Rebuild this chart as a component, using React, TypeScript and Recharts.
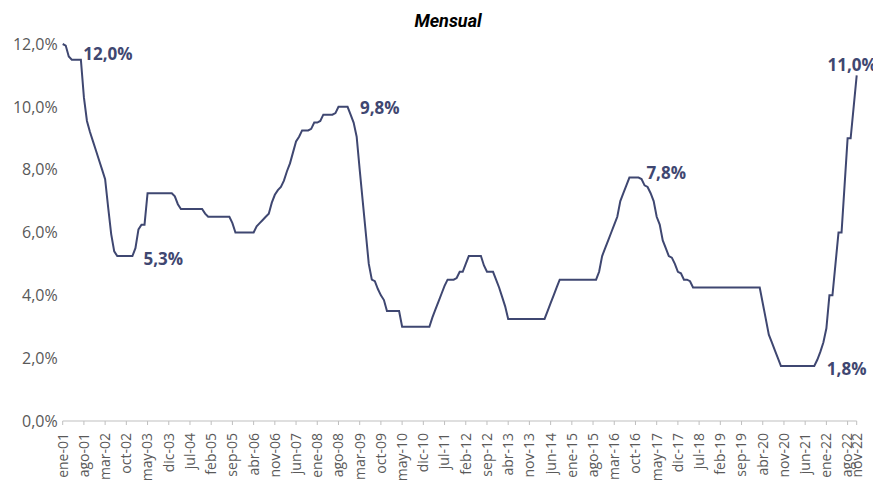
import React from 'react';
import { LineChart, Line, XAxis, YAxis, LabelList } from 'recharts';

const monthNames = ['ene', 'feb', 'mar', 'abr', 'may', 'jun', 'jul', 'ago', 'sep', 'oct', 'nov', 'dic'];
const yearSuffixes = ['01', '02', '03', '04', '05', '06', '07', '08', '09', '10', '11', '12', '13', '14', '15', '16', '17', '18', '19', '20', '21', '22'];

const rate2001 = [12.0, 11.95, 11.6, 11.5, 11.5, 11.5, 11.5, 10.3, 9.55, 9.2, 8.9, 8.6];
const rate2002 = [8.3, 8.0, 7.7, 6.8, 5.95, 5.4, 5.25, 5.25, 5.25, 5.25, 5.25, 5.25];
const rate2003 = [5.5, 6.1, 6.25, 6.25, 7.25, 7.25, 7.25, 7.25, 7.25, 7.25, 7.25, 7.25];
const rate2004 = [7.25, 7.15, 6.9, 6.75, 6.75, 6.75, 6.75, 6.75, 6.75, 6.75, 6.75, 6.6];
const rate2005 = [6.5, 6.5, 6.5, 6.5, 6.5, 6.5, 6.5, 6.5, 6.3, 6.0, 6.0, 6.0];
const rate2006 = [6.0, 6.0, 6.0, 6.0, 6.2, 6.3, 6.4, 6.5, 6.6, 6.95, 7.2, 7.35];
const rate2007 = [7.45, 7.65, 7.95, 8.2, 8.55, 8.9, 9.05, 9.25, 9.25, 9.25, 9.3, 9.5];
const rate2008 = [9.5, 9.55, 9.75, 9.75, 9.75, 9.75, 9.8, 10.0, 10.0, 10.0, 10.0, 9.75];
const rate2009 = [9.5, 9.05, 8.0, 7.0, 6.0, 5.0, 4.5, 4.45, 4.2, 4.0, 3.85, 3.5];
const rate2010 = [3.5, 3.5, 3.5, 3.5, 3.0, 3.0, 3.0, 3.0, 3.0, 3.0, 3.0, 3.0];
const rate2011 = [3.0, 3.0, 3.3, 3.55, 3.8, 4.05, 4.3, 4.5, 4.5, 4.5, 4.55, 4.75];
const rate2012 = [4.75, 5.0, 5.25, 5.25, 5.25, 5.25, 5.25, 4.95, 4.75, 4.75, 4.75, 4.5];
const rate2013 = [4.25, 3.95, 3.65, 3.25, 3.25, 3.25, 3.25, 3.25, 3.25, 3.25, 3.25, 3.25];
const rate2014 = [3.25, 3.25, 3.25, 3.25, 3.5, 3.75, 4.0, 4.25, 4.5, 4.5, 4.5, 4.5];
const rate2015 = [4.5, 4.5, 4.5, 4.5, 4.5, 4.5, 4.5, 4.5, 4.5, 4.75, 5.25, 5.5];
const rate2016 = [5.75, 6.0, 6.25, 6.5, 7.0, 7.25, 7.5, 7.75, 7.75, 7.75, 7.75, 7.7];
const rate2017 = [7.5, 7.45, 7.25, 7.0, 6.5, 6.25, 5.75, 5.5, 5.25, 5.2, 5.0, 4.75];
const rate2018 = [4.7, 4.5, 4.5, 4.45, 4.25, 4.25, 4.25, 4.25, 4.25, 4.25, 4.25, 4.25];
const rate2019 = [4.25, 4.25, 4.25, 4.25, 4.25, 4.25, 4.25, 4.25, 4.25, 4.25, 4.25, 4.25];
const rate2020 = [4.25, 4.25, 4.25, 3.75, 3.25, 2.75, 2.5, 2.25, 2.0, 1.75, 1.75, 1.75];
const rate2021 = [1.75, 1.75, 1.75, 1.75, 1.75, 1.75, 1.75, 1.75, 1.75, 1.95, 2.2, 2.5];
const rate2022 = [2.95, 4.0, 4.0, 5.0, 6.0, 6.0, 7.5, 9.0, 9.0, 10.0, 11.0];

const rates = [
  ...rate2001, ...rate2002, ...rate2003, ...rate2004, ...rate2005, ...rate2006,
  ...rate2007, ...rate2008, ...rate2009, ...rate2010, ...rate2011, ...rate2012,
  ...rate2013, ...rate2014, ...rate2015, ...rate2016, ...rate2017, ...rate2018,
  ...rate2019, ...rate2020, ...rate2021, ...rate2022,
];

const categories: string[] = [];
yearSuffixes.forEach((y) => monthNames.forEach((m) => categories.push(`${m}-${y}`)));

const data = rates.map((v, i) => ({ mes: categories[i], tasa: v }));

const tickLabels = [
  'ene-01', 'ago-01', 'mar-02', 'oct-02', 'may-03', 'dic-03', 'jul-04', 'feb-05', 'sep-05',
  'abr-06', 'nov-06', 'jun-07', 'ene-08', 'ago-08', 'mar-09', 'oct-09', 'may-10', 'dic-10',
  'jul-11', 'feb-12', 'sep-12', 'abr-13', 'nov-13', 'jun-14', 'ene-15', 'ago-15', 'mar-16',
  'oct-16', 'may-17', 'dic-17', 'jul-18', 'feb-19', 'sep-19', 'abr-20', 'nov-20', 'jun-21',
  'ene-22', 'ago-22', 'nov-22',
];

const yTicks = [0, 2, 4, 6, 8, 10, 12];

const callouts = [
  { mes: 'ene-01', dx: 20.6, dy: 9.3, anchor: 'start' },
  { mes: 'dic-02', dx: 11.1, dy: 2.2, anchor: 'start' },
  { mes: 'dic-08', dx: 9.4, dy: -6.7, anchor: 'start' },
  { mes: 'nov-16', dx: 7.9, dy: -5, anchor: 'start' },
  { mes: 'sep-21', dx: 12.6, dy: 2.8, anchor: 'start' },
  { mes: 'nov-22', dx: -4.5, dy: -11.4, anchor: 'middle' },
];

const LINE_COLOR = '#3f4771';
const AXIS_TEXT = '#595959';

const fmtPct = (v: number) => v.toFixed(1).replace('.', ',') + '%';

const XTick = (props: any) => {
  const { x, y, payload } = props;
  return (
    <text
      x={x}
      y={y}
      transform={`rotate(-90, ${x}, ${y})`}
      textAnchor="end"
      dy="0.35em"
      fontSize={14}
      fill={AXIS_TEXT}
      fontFamily="'Open Sans', sans-serif"
    >
      {payload.value}
    </text>
  );
};

const renderCallout = (props: any) => {
  const { x, y, index, value } = props;
  const cat = categories[index];
  const c = callouts.find((l) => l.mes === cat);
  if (!c) return null;
  return (
    <text
      x={x + c.dx}
      y={y + c.dy}
      textAnchor={c.anchor as any}
      dominantBaseline="central"
      fontSize={17}
      fontWeight={700}
      fill={LINE_COLOR}
      fontFamily="'Open Sans', sans-serif"
    >
      {fmtPct(Number(value))}
    </text>
  );
};

export default function App() {
  return (
    <div style={{ position: 'relative', width: 873, height: 473 }}>
      <div
        style={{
          position: 'absolute',
          top: 2,
          left: 0,
          width: 880,
          textAlign: 'center',
          fontFamily: "Roboto, sans-serif",
          fontWeight: 700,
          fontStyle: 'italic',
          fontSize: 18,
          lineHeight: '22px',
          color: '#000',
        }}
      >
        Mensual
      </div>
      <LineChart
        width={873}
        height={473}
        data={data}
        margin={{ top: 36, right: 24.3, left: 0, bottom: 0 }}
      >
        <XAxis
          dataKey="mes"
          ticks={tickLabels}
          interval={0}
          height={60}
          tick={<XTick />}
          tickSize={4}
          tickMargin={8}
          axisLine={{ stroke: '#bfbfbf', strokeWidth: 1 }}
          tickLine={{ stroke: '#bfbfbf', strokeWidth: 1 }}
        />
        <YAxis
          domain={[0, 12]}
          ticks={yTicks}
          width={54.7}
          axisLine={false}
          tickLine={false}
          tickSize={0}
          tickMargin={5}
          tickFormatter={(v: number) => fmtPct(v)}
          tick={{ fontSize: 16, fill: AXIS_TEXT, fontFamily: "'Open Sans', sans-serif" }}
        />
        <Line
          type="linear"
          dataKey="tasa"
          stroke={LINE_COLOR}
          strokeWidth={2}
          dot={false}
          isAnimationActive={false}
        >
          <LabelList dataKey="tasa" content={renderCallout} />
        </Line>
      </LineChart>
    </div>
  );
}
